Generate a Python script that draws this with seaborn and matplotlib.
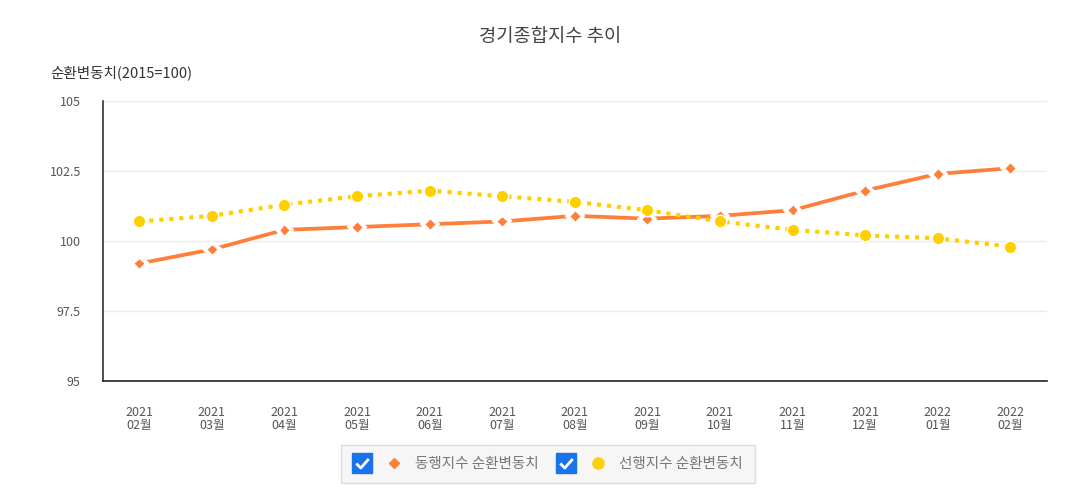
import matplotlib.pyplot as plt
import matplotlib.patheffects as pe
from matplotlib.lines import Line2D
from matplotlib.path import Path
from matplotlib.legend_handler import HandlerTuple
import seaborn as sns
import pandas as pd

months = ['2021\n02월', '2021\n03월', '2021\n04월', '2021\n05월', '2021\n06월',
          '2021\n07월', '2021\n08월', '2021\n09월', '2021\n10월', '2021\n11월',
          '2021\n12월', '2022\n01월', '2022\n02월']
coincident = [99.2, 99.7, 100.4, 100.5, 100.6, 100.7, 100.9, 100.8, 100.9, 101.1, 101.8, 102.4, 102.6]
leading = [100.7, 100.9, 101.3, 101.6, 101.8, 101.6, 101.4, 101.1, 100.7, 100.4, 100.2, 100.1, 99.8]
series_names = ['동행지수 순환변동치', '선행지수 순환변동치']
yticks = [95, 97.5, 100, 102.5, 105]

orange = '#FF7F3A'
yellow = '#FFD000'

df = pd.DataFrame({'pos': range(len(months)), 'co': coincident, 'le': leading})

sns.set_theme(style='white')
plt.rcParams['font.family'] = ['Noto Sans CJK KR', 'DejaVu Sans']

fig = plt.figure(figsize=(10.87, 5.03), dpi=100)
ax = fig.add_axes([0.0948, 0.2425, 0.868, 0.5566])

white_edge = [pe.Stroke(linewidth=4.5, foreground='white'), pe.Normal()]
sns.lineplot(data=df, x='pos', y='co', ax=ax, color=orange, linewidth=2.7,
             marker='D', markersize=6, markeredgecolor='white', markeredgewidth=1,
             path_effects=white_edge, zorder=3)
sns.lineplot(data=df, x='pos', y='le', ax=ax, color=yellow, linewidth=3,
             linestyle=(0, (1, 1.4)), marker='o', markersize=9,
             markeredgecolor='white', markeredgewidth=1, zorder=4)

ax.set_xlim(-0.5, len(months) - 0.5)
ax.set_ylim(95, 105)
ax.set_yticks(yticks)
ax.set_yticklabels(['95', '97.5', '100', '102.5', '105'])
ax.set_xticks(range(len(months)))
ax.set_xticklabels(months, linespacing=1.0)
ax.tick_params(axis='both', length=0, labelsize=9, colors='#555555')
ax.tick_params(axis='x', pad=18)
ax.tick_params(axis='y', pad=16)
ax.set_xlabel('')
ax.set_ylabel('')
ax.yaxis.grid(True, color='#ebebeb', linewidth=1)
ax.xaxis.grid(False)
for s in ['top', 'right']:
    ax.spines[s].set_visible(False)
ax.spines['left'].set_color('#333333')
ax.spines['bottom'].set_color('#222222')
ax.spines['left'].set_linewidth(1.2)
ax.spines['bottom'].set_linewidth(1.2)

fig.text(550 / 1087, 1 - 37 / 503, '경기종합지수 추이', ha='center', va='center',
         fontsize=13.5, color='#444444')
fig.text(50 / 1087, 1 - 73 / 503, '순환변동치(2015=100)', ha='left', va='center',
         fontsize=10.5, color='#333333')

check_path = Path([(-0.55, 0.0), (-0.15, -0.4), (0.55, 0.4)])
box = Line2D([], [], linestyle='none', marker='s', markersize=14,
             markerfacecolor='#1a73e8', markeredgecolor='#1a73e8')
check = Line2D([], [], linestyle='none', marker=check_path, markersize=9,
               fillstyle='none', markeredgecolor='white', markeredgewidth=2)
checkbox = (box, check)
h_co = Line2D([], [], linestyle='none', marker='D', markersize=5, color=orange)
h_le = Line2D([], [], linestyle='none', marker='o', markersize=8, color=yellow)
entry_co = (checkbox, h_co)
entry_le = (checkbox, h_le)
handler_map = {checkbox: HandlerTuple(ndivide=1),
               entry_co: HandlerTuple(ndivide=None, pad=1.0),
               entry_le: HandlerTuple(ndivide=None, pad=1.0)}
leg = fig.legend([entry_co, entry_le], series_names, handler_map=handler_map,
                 loc='center', bbox_to_anchor=(548 / 1087, 1 - 464 / 503),
                 ncol=2, frameon=True, fontsize=10.5, handlelength=3.4,
                 columnspacing=1.3, borderpad=0.55, handletextpad=0.8)
frame = leg.get_frame()
frame.set_facecolor('#f6f6f6')
frame.set_edgecolor('#dddddd')
frame.set_boxstyle('square')
frame.set_alpha(1)
for t in leg.get_texts():
    t.set_color('#777777')

fig.savefig('out.png', dpi=100)
